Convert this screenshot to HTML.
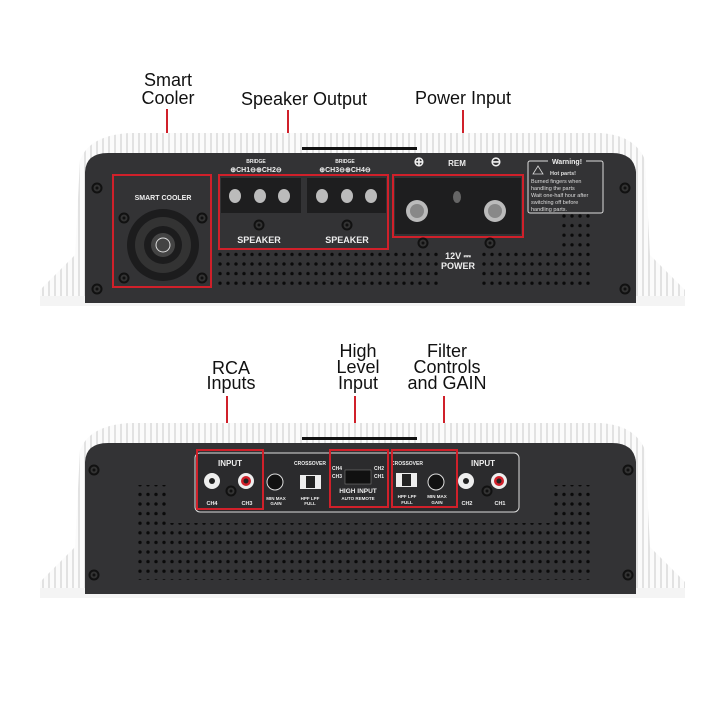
<!DOCTYPE html>
<html><head><meta charset="utf-8"><style>
html,body{margin:0;padding:0;background:#fff;width:720px;height:720px;overflow:hidden}
svg{display:block}
.lbl{font-family:"Liberation Sans",sans-serif;font-size:18px;fill:#111;text-anchor:middle}
.w{font-family:"Liberation Sans",sans-serif;fill:#eee;text-anchor:middle;font-weight:bold}
</style></head><body>
<svg width="720" height="720" viewBox="0 0 720 720" xmlns="http://www.w3.org/2000/svg">
<defs>
<pattern id="fin" width="6" height="10" patternUnits="userSpaceOnUse"><rect width="6" height="10" fill="#fbfbfb"/><rect x="0" width="2" height="10" fill="#e2e2e2"/></pattern>
<pattern id="dot" x="0" y="0" width="8" height="9.6" patternUnits="userSpaceOnUse"><rect width="8" height="9.6" fill="#333335"/><circle cx="4" cy="4.8" r="1.7" fill="#0a0a0a"/></pattern>
<g id="screw"><circle r="5.5" fill="#111"/><circle r="3.5" fill="#333"/><circle r="1.5" fill="#111"/></g>
</defs>
<text class="lbl" x="168" y="86">Smart</text>
<text class="lbl" x="168" y="104">Cooler</text>
<text class="lbl" x="304" y="105">Speaker Output</text>
<text class="lbl" x="463" y="104">Power Input</text>
<g stroke="#d0202a" stroke-width="2"><line x1="167" y1="109" x2="167" y2="175"/><line x1="288" y1="110" x2="288" y2="175"/><line x1="463" y1="110" x2="463" y2="175"/></g>

<!-- TOP AMP -->
<path d="M40 305 L40 290 L75 255 L80 160 Q90 135 130 133 L600 133 Q635 135 645 160 L650 255 L685 290 L685 305 Z" fill="url(#fin)"/>
<rect x="40" y="296" width="645" height="10" fill="#f4f4f4"/>
<rect x="302" y="147" width="115" height="3" fill="#111"/>
<path d="M85 303 L85 172 Q86 153 108 153 L612 153 Q634 153 636 172 L636 303 Z" fill="#333335"/>
<rect x="215" y="252" width="224" height="38" fill="url(#dot)"/>
<rect x="482" y="252" width="112" height="38" fill="url(#dot)"/>
<rect x="558" y="214" width="36" height="38" fill="url(#dot)"/>
<use href="#screw" x="97" y="188"/><use href="#screw" x="97" y="289"/><use href="#screw" x="625" y="188"/><use href="#screw" x="625" y="289"/>
<text class="w" x="163" y="200" font-size="7" font-weight="normal">SMART COOLER</text>
<circle cx="163" cy="245" r="36" fill="#1c1c1d"/>
<circle cx="163" cy="245" r="28" fill="#333"/>
<circle cx="163" cy="245" r="19" fill="#1c1c1d"/>
<circle cx="163" cy="245" r="12" fill="#444"/>
<circle cx="163" cy="245" r="7" fill="none" stroke="#ddd" stroke-width="1"/>
<use href="#screw" x="124" y="218"/><use href="#screw" x="202" y="218"/><use href="#screw" x="124" y="278"/><use href="#screw" x="202" y="278"/>
<rect x="113" y="175" width="98" height="112" fill="none" stroke="#d0202a" stroke-width="2"/>
<text class="w" x="256" y="172" font-size="7">⊕CH1⊖⊕CH2⊖</text>
<text class="w" x="345" y="172" font-size="7">⊕CH3⊖⊕CH4⊖</text>
<text class="w" x="256" y="163" font-size="5">BRIDGE</text>
<text class="w" x="345" y="163" font-size="5">BRIDGE</text>
<rect x="221" y="178" width="80" height="35" fill="#1e1e1f"/>
<rect x="307" y="178" width="79" height="35" fill="#1e1e1f"/>
<g fill="#bbb"><ellipse cx="235" cy="196" rx="6" ry="7"/><ellipse cx="260" cy="196" rx="6" ry="7"/><ellipse cx="284" cy="196" rx="6" ry="7"/><ellipse cx="322" cy="196" rx="6" ry="7"/><ellipse cx="347" cy="196" rx="6" ry="7"/><ellipse cx="371" cy="196" rx="6" ry="7"/></g>
<use href="#screw" x="259" y="225"/><use href="#screw" x="347" y="225"/>
<text class="w" x="259" y="243" font-size="9">SPEAKER</text>
<text class="w" x="347" y="243" font-size="9">SPEAKER</text>
<rect x="219" y="175" width="169" height="74" fill="none" stroke="#d0202a" stroke-width="2"/>
<text class="w" x="419" y="166" font-size="13">⊕</text>
<text class="w" x="457" y="166" font-size="8">REM</text>
<text class="w" x="496" y="166" font-size="13">⊖</text>
<rect x="395" y="178" width="126" height="56" fill="#1e1e1f"/>
<circle cx="417" cy="211" r="11" fill="#bbb"/><circle cx="417" cy="211" r="7" fill="#888"/>
<circle cx="495" cy="211" r="11" fill="#bbb"/><circle cx="495" cy="211" r="7" fill="#888"/>
<ellipse cx="457" cy="197" rx="4" ry="6" fill="#666"/>
<rect x="393" y="175" width="130" height="62" fill="none" stroke="#d0202a" stroke-width="2"/>
<use href="#screw" x="423" y="243"/><use href="#screw" x="490" y="243"/>
<text class="w" x="458" y="259" font-size="9">12V ⎓</text>
<text class="w" x="458" y="269" font-size="9">POWER</text>
<rect x="528" y="161" width="75" height="52" rx="2" fill="none" stroke="#ddd" stroke-width="1"/>
<rect x="548" y="157" width="38" height="8" fill="#333335"/>
<text class="w" x="567" y="164" font-size="7">Warning!</text>
<g font-family="Liberation Sans,sans-serif" font-size="5.5" fill="#ddd"><text x="550" y="175" font-weight="bold">Hot parts!</text><text x="531" y="183">Burned fingers when</text><text x="531" y="190">handling the parts</text><text x="531" y="197">Wait one-half hour after</text><text x="531" y="204">switching off before</text><text x="531" y="211">handling parts.</text></g>
<path d="M533 174 L538 166 L543 174 Z" fill="none" stroke="#ddd" stroke-width="0.8"/>

<text class="lbl" x="231" y="374">RCA</text>
<text class="lbl" x="231" y="389">Inputs</text>
<text class="lbl" x="358" y="357">High</text>
<text class="lbl" x="358" y="373">Level</text>
<text class="lbl" x="358" y="389">Input</text>
<text class="lbl" x="447" y="357">Filter</text>
<text class="lbl" x="447" y="373">Controls</text>
<text class="lbl" x="447" y="389">and GAIN</text>
<g stroke="#d0202a" stroke-width="2"><line x1="227" y1="396" x2="227" y2="450"/><line x1="355" y1="396" x2="355" y2="450"/><line x1="444" y1="396" x2="444" y2="450"/></g>

<path d="M40 597 L40 582 L75 547 L80 450 Q90 425 130 423 L600 423 Q635 425 645 450 L650 547 L685 582 L685 597 Z" fill="url(#fin)"/>
<rect x="40" y="588" width="645" height="10" fill="#f4f4f4"/>
<rect x="302" y="437" width="115" height="3" fill="#111"/>
<path d="M85 594 L85 462 Q86 443 108 443 L612 443 Q634 443 636 462 L636 594 Z" fill="#333335"/>
<rect x="135" y="523" width="458" height="57" fill="url(#dot)"/>
<rect x="135" y="485" width="35" height="38" fill="url(#dot)"/>
<rect x="554" y="485" width="39" height="38" fill="url(#dot)"/>
<use href="#screw" x="94" y="470"/><use href="#screw" x="94" y="575"/><use href="#screw" x="628" y="470"/><use href="#screw" x="628" y="575"/>
<rect x="195" y="453" width="324" height="59" rx="5" fill="#2b2b2d" stroke="#ddd" stroke-width="1"/>
<text class="w" x="230" y="466" font-size="8">INPUT</text>
<text class="w" x="483" y="466" font-size="8">INPUT</text>
<g><circle cx="212" cy="481" r="8" fill="#eee"/><circle cx="212" cy="481" r="3" fill="#222"/>
<circle cx="246" cy="481" r="8" fill="#eee"/><circle cx="246" cy="481" r="5" fill="#d0202a"/><circle cx="246" cy="481" r="2.5" fill="#222"/>
<circle cx="466" cy="481" r="8" fill="#eee"/><circle cx="466" cy="481" r="3" fill="#222"/>
<circle cx="499" cy="481" r="8" fill="#eee"/><circle cx="499" cy="481" r="5" fill="#d0202a"/><circle cx="499" cy="481" r="2.5" fill="#222"/></g>
<use href="#screw" x="231" y="491"/><use href="#screw" x="487" y="491"/>
<g font-size="5.5"><text x="212" y="505" class="w">CH4</text><text x="247" y="505" class="w">CH3</text><text x="467" y="505" class="w">CH2</text><text x="500" y="505" class="w">CH1</text></g>
<circle cx="275" cy="482" r="8" fill="#111" stroke="#ddd" stroke-width="1"/>
<circle cx="436" cy="482" r="8" fill="#111" stroke="#ddd" stroke-width="1"/>
<rect x="300" y="475" width="21" height="14" fill="#eee"/><rect x="306" y="476" width="9" height="12" fill="#222"/>
<rect x="396" y="473" width="21" height="14" fill="#eee"/><rect x="402" y="474" width="9" height="12" fill="#222"/>
<text class="w" x="310" y="465" font-size="5" font-weight="normal">CROSSOVER</text>
<text class="w" x="407" y="465" font-size="5" font-weight="normal">CROSSOVER</text>
<g font-size="4.5"><text class="w" x="276" y="500">MIN  MAX</text><text class="w" x="276" y="505">GAIN</text><text class="w" x="310" y="500">HPF     LPF</text><text class="w" x="310" y="505">FULL</text>
<text class="w" x="407" y="498">HPF     LPF</text><text class="w" x="407" y="504">FULL</text><text class="w" x="437" y="498">MIN  MAX</text><text class="w" x="437" y="504">GAIN</text></g>
<rect x="345" y="470" width="26" height="14" fill="#111" stroke="#777" stroke-width="0.6"/>
<g font-size="5"><text class="w" x="337" y="470">CH4</text><text class="w" x="337" y="478">CH3</text><text class="w" x="379" y="470">CH2</text><text class="w" x="379" y="478">CH1</text></g>
<text class="w" x="358" y="493" font-size="6.5">HIGH INPUT</text>
<text class="w" x="358" y="500" font-size="4.5" font-weight="normal">AUTO REMOTE</text>
<g fill="none" stroke="#d0202a" stroke-width="2"><rect x="197" y="450" width="66" height="59"/><rect x="330" y="450" width="58" height="57"/><rect x="392" y="450" width="65" height="57"/></g>
</svg>
</body></html>
